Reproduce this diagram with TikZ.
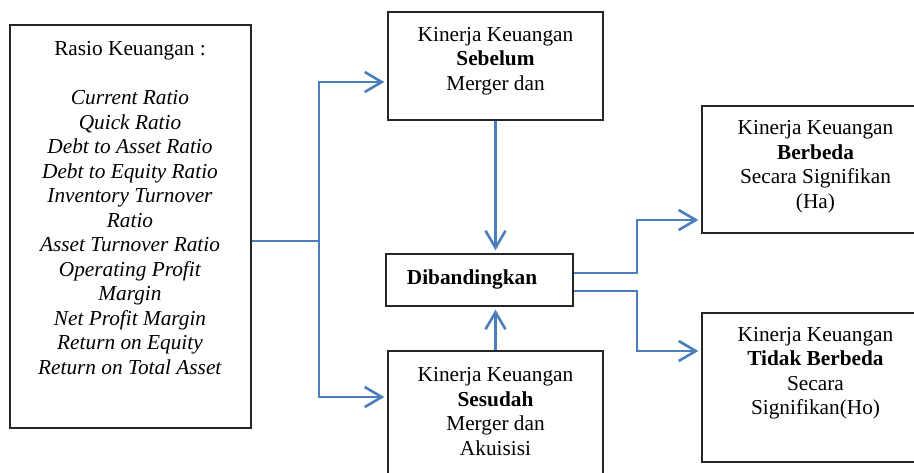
\documentclass[tikz,border=0pt]{standalone}
\usepackage{fontspec}
\setmainfont{Liberation Serif}
\usetikzlibrary{arrows.meta}
\definecolor{lineblue}{HTML}{4A7EBB}
\begin{document}
\begin{tikzpicture}[x=1pt,y=-1pt,
  box/.style={draw=black!85,line width=1.4pt,rectangle,inner sep=0pt},
  txt/.style={align=center,inner sep=0pt,font=\fontsize{21.3}{24.5}\selectfont},
  conn/.style={draw=lineblue,line width=2.6pt},
  arr/.style={conn,-{Straight Barb[length=17pt,width=20pt]},shorten >=3pt}]
\useasboundingbox (0,0) rectangle (914,472);
\clip (0,0) rectangle (914,472);
% boxes
\node[box,minimum width=241pt,minimum height=403pt] (L) at (130.5,226.5) {};
\node[box,minimum width=215pt,minimum height=108pt] (S) at (495.5,66) {};
\node[box,minimum width=187pt,minimum height=52pt] (D) at (479.5,280) {};
\node[box,minimum width=215pt,minimum height=134pt] (A) at (495.5,418) {};
\node[box,minimum width=218pt,minimum height=127pt] (B) at (811,169.5) {};
\node[box,minimum width=218pt,minimum height=149pt] (T) at (811,387.5) {};
% texts
\node[txt] (Lt) at (130,208) {Rasio Keuangan :\\[24.5pt]
  \textit{Current Ratio}\\ \textit{Quick Ratio}\\ \textit{Debt to Asset Ratio}\\
  \textit{Debt to Equity Ratio}\\ \textit{Inventory Turnover}\\ \textit{Ratio}\\
  \textit{Asset Turnover Ratio}\\ \textit{Operating Profit}\\ \textit{Margin}\\
  \textit{Net Profit Margin}\\ \textit{Return on Equity}\\ \textit{Return on Total Asset}};
\node[txt] (St) at (495.5,61) {Kinerja Keuangan\\ \textbf{Sebelum}\\ Merger dan};
\node[txt] (Dt) at (472,279) {\textbf{Dibandingkan}};
\node[txt] (At) at (495.5,411.5) {Kinerja Keuangan\\ \textbf{Sesudah}\\ Merger dan\\ Akuisisi};
\node[txt] (Bt) at (815.5,166.5) {Kinerja Keuangan\\ \textbf{Berbeda}\\ Secara Signifikan\\ (Ha)};
\node[txt] (Tt) at (815.5,373) {Kinerja Keuangan\\ \textbf{Tidak Berbeda}\\ Secara\\ Signifikan(Ho)};
% connectors
\coordinate (j) at (319,241);
\coordinate (k) at (637,0);
\coordinate (ba) at ([yshift=-50.5pt]B.west);
\coordinate (ta) at ([yshift=36.5pt]T.west);
\draw[conn] (j -| L.east) -- (j);
\draw[arr] (j) |- ([yshift=-16pt]S.west);
\draw[arr] (j) |- ([yshift=21pt]A.west);
\draw[arr] (S.south) -- (S.south |- D.north);
\draw[arr] (A.north) -- (A.north |- D.south);
\draw[arr] ([yshift=7pt]D.east) -| (k |- ba) -- (ba);
\draw[arr] ([yshift=-11pt]D.east) -| (k |- ta) -- (ta);
\end{tikzpicture}
\end{document}
